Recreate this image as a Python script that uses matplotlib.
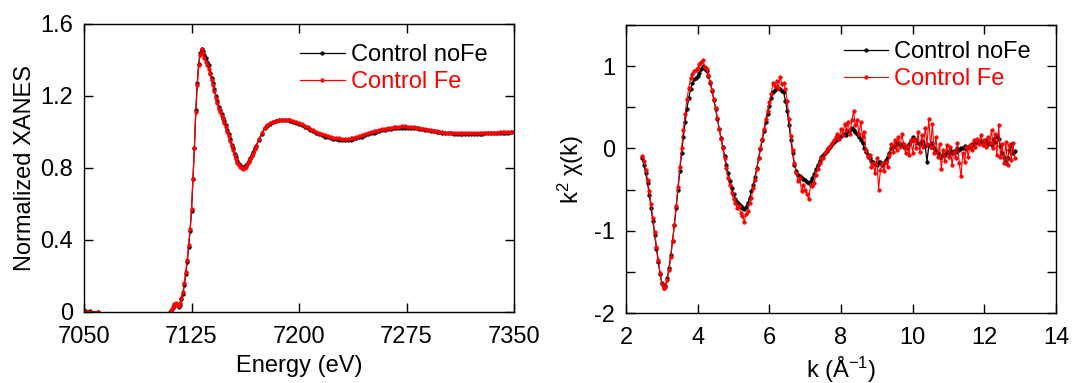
"""Fe K-edge XANES and k^2-weighted EXAFS, Control noFe vs Control Fe"""
import numpy as np
import matplotlib
matplotlib.use('Agg')
import matplotlib.pyplot as plt
from matplotlib.ticker import MultipleLocator, FuncFormatter

# ---- XANES (energy in eV) ----
energy = [7050, 7054.5, 7059.5,
          7110, 7111, 7112, 7113, 7114, 7115, 7116, 7117, 7118, 7119,
          7120, 7121, 7122, 7123, 7124, 7125, 7126, 7127, 7128, 7129,
          7130, 7131, 7132, 7133, 7134, 7135, 7136, 7137, 7138, 7139,
          7140, 7141, 7142, 7143, 7144, 7145, 7146, 7147, 7148, 7149,
          7150, 7151, 7152, 7153, 7154, 7155, 7156, 7157, 7158, 7159,
          7160, 7161, 7162, 7163, 7164, 7165, 7166, 7167, 7168, 7169, 7170,
          7172, 7174, 7176, 7178, 7180, 7182, 7184, 7186, 7188, 7190,
          7192, 7194, 7196, 7198, 7200, 7202, 7204, 7206, 7208, 7210,
          7212, 7214, 7216, 7218, 7220, 7222, 7224, 7226, 7228, 7230,
          7232, 7234, 7236, 7238, 7240, 7242, 7244, 7246, 7248, 7250,
          7252, 7254, 7256, 7258, 7260, 7262, 7264, 7266, 7268, 7270,
          7272, 7274, 7276, 7278, 7280, 7282, 7284, 7286, 7288, 7290,
          7292, 7294, 7296, 7298, 7300, 7302, 7304, 7306, 7308, 7310,
          7312, 7314, 7316, 7318, 7320, 7322, 7324, 7326, 7328, 7330,
          7332, 7334, 7336, 7338, 7340, 7342, 7344, 7346, 7348, 7350]

xanes_nofe = [0.012, 0.003, 0.0,
              0.00, 0.005, 0.02, 0.04, 0.045, 0.04, 0.03, 0.04, 0.07, 0.10,
              0.15, 0.21, 0.28, 0.36, 0.45, 0.56, 0.74, 0.91, 1.12, 1.27,
              1.38, 1.44, 1.46, 1.45, 1.43, 1.41, 1.39, 1.37, 1.33, 1.30,
              1.27, 1.24, 1.20, 1.17, 1.14, 1.12, 1.10, 1.08, 1.06, 1.04,
              1.01, 0.99, 0.96, 0.93, 0.91, 0.88, 0.86, 0.84, 0.825, 0.815,
              0.808, 0.806, 0.808, 0.815, 0.825, 0.84, 0.855, 0.87, 0.89, 0.91, 0.925,
              0.955, 0.99, 1.02, 1.035, 1.045, 1.055, 1.06, 1.065, 1.067, 1.067,
              1.065, 1.062, 1.058, 1.052, 1.046, 1.038, 1.030, 1.021, 1.012, 1.003,
              0.995, 0.988, 0.981, 0.975, 0.970, 0.966, 0.963, 0.960, 0.958, 0.957,
              0.956, 0.956, 0.958, 0.961, 0.965, 0.970, 0.975, 0.981, 0.987, 0.992,
              0.997, 1.002, 1.006, 1.010, 1.013, 1.016, 1.019, 1.021, 1.023, 1.024,
              1.025, 1.025, 1.025, 1.024, 1.022, 1.020, 1.018, 1.015, 1.012, 1.009,
              1.006, 1.003, 1.000, 0.998, 0.996, 0.994, 0.993, 0.992, 0.991, 0.990,
              0.990, 0.989, 0.989, 0.989, 0.990, 0.990, 0.990, 0.991, 0.991, 0.992,
              0.992, 0.993, 0.993, 0.994, 0.995, 0.996, 0.997, 0.997, 0.998, 0.998]

xanes_fe = [0.008, 0.0, 0.0,
            0.00, 0.01, 0.03, 0.045, 0.05, 0.04, 0.035, 0.05, 0.08, 0.11,
            0.16, 0.22, 0.29, 0.37, 0.46, 0.57, 0.74, 0.91, 1.11, 1.26,
            1.37, 1.43, 1.46, 1.44, 1.41, 1.39, 1.37, 1.35, 1.32, 1.29,
            1.26, 1.23, 1.19, 1.16, 1.13, 1.11, 1.09, 1.07, 1.05, 1.03,
            1.00, 0.98, 0.95, 0.92, 0.90, 0.87, 0.85, 0.83, 0.815, 0.805,
            0.798, 0.797, 0.80, 0.808, 0.82, 0.835, 0.85, 0.865, 0.885, 0.905, 0.92,
            0.96, 0.995, 1.025, 1.04, 1.05, 1.058, 1.063, 1.067, 1.069, 1.069,
            1.068, 1.065, 1.061, 1.056, 1.050, 1.043, 1.035, 1.026, 1.017, 1.009,
            1.001, 0.994, 0.987, 0.981, 0.976, 0.972, 0.969, 0.966, 0.964, 0.963,
            0.962, 0.962, 0.964, 0.967, 0.971, 0.976, 0.981, 0.987, 0.993, 0.998,
            1.003, 1.008, 1.012, 1.016, 1.019, 1.022, 1.025, 1.027, 1.029, 1.030,
            1.031, 1.031, 1.030, 1.029, 1.027, 1.025, 1.022, 1.019, 1.016, 1.013,
            1.010, 1.007, 1.004, 1.001, 0.999, 0.997, 0.996, 0.995, 0.994, 0.993,
            0.993, 0.992, 0.992, 0.992, 0.993, 0.993, 0.993, 0.994, 0.994, 0.995,
            0.995, 0.996, 0.996, 0.997, 0.998, 0.998, 0.999, 0.999, 1.000, 1.000]

# ---- EXAFS k^2 chi(k) ----
k = [2.45, 2.50, 2.55, 2.60, 2.65, 2.70, 2.75, 2.80, 2.85, 2.90, 2.95,
     3.00, 3.05, 3.10, 3.15, 3.20, 3.25, 3.30, 3.35, 3.40, 3.45, 3.50, 3.55, 3.60, 3.65, 3.70, 3.75, 3.80, 3.85, 3.90, 3.95,
     4.00, 4.05, 4.10, 4.15, 4.20, 4.25, 4.30, 4.35, 4.40, 4.45, 4.50, 4.55, 4.60, 4.65, 4.70, 4.75, 4.80, 4.85, 4.90, 4.95,
     5.00, 5.05, 5.10, 5.15, 5.20, 5.25, 5.30, 5.35, 5.40, 5.45, 5.50, 5.55, 5.60, 5.65, 5.70, 5.75, 5.80, 5.85, 5.90, 5.95,
     6.00, 6.05, 6.10, 6.15, 6.20, 6.25, 6.30, 6.35, 6.40, 6.45, 6.50, 6.55, 6.60, 6.65, 6.70, 6.75, 6.80, 6.85, 6.90, 6.95,
     7.00, 7.05, 7.10, 7.15, 7.20, 7.25, 7.30, 7.35, 7.40, 7.45, 7.50, 7.55, 7.60, 7.65, 7.70, 7.75, 7.80, 7.85, 7.90, 7.95,
     8.00, 8.05, 8.10, 8.15, 8.20, 8.25, 8.30, 8.35, 8.40, 8.45, 8.50, 8.55, 8.60, 8.65, 8.70, 8.75, 8.80, 8.85, 8.90, 8.95,
     9.00, 9.05, 9.10, 9.15, 9.20, 9.25, 9.30, 9.35, 9.40, 9.45, 9.50, 9.55, 9.60, 9.65, 9.70, 9.75, 9.80, 9.85, 9.90, 9.95,
     10.00, 10.05, 10.10, 10.15, 10.20, 10.25, 10.30, 10.35, 10.40, 10.45, 10.50, 10.55, 10.60, 10.65, 10.70, 10.75, 10.80, 10.85, 10.90, 10.95,
     11.00, 11.05, 11.10, 11.15, 11.20, 11.25, 11.30, 11.35, 11.40, 11.45, 11.50, 11.55, 11.60, 11.65, 11.70, 11.75, 11.80, 11.85, 11.90, 11.95,
     12.00, 12.05, 12.10, 12.15, 12.20, 12.25, 12.30, 12.35, 12.40, 12.45, 12.50, 12.55, 12.60, 12.65, 12.70, 12.75, 12.80, 12.85]

chi_nofe = [-0.12, -0.20, -0.30, -0.42, -0.56, -0.72, -0.88, -1.05, -1.22, -1.38, -1.52,
            -1.64, -1.70, -1.67, -1.58, -1.45, -1.30, -1.12, -0.93, -0.72, -0.50, -0.28, -0.06, 0.14, 0.32, 0.48, 0.61, 0.72, 0.79, 0.84, 0.85,
            0.88, 0.92, 0.97, 1.00, 0.97, 0.94, 0.88, 0.80, 0.70, 0.59, 0.48, 0.36, 0.24, 0.13, 0.02, -0.09, -0.20, -0.30, -0.40, -0.48,
            -0.55, -0.61, -0.65, -0.68, -0.70, -0.72, -0.74, -0.71, -0.66, -0.60, -0.52, -0.44, -0.35, -0.24, -0.12, -0.01, 0.10, 0.21, 0.32, 0.42,
            0.52, 0.61, 0.68, 0.71, 0.73, 0.74, 0.72, 0.70, 0.68, 0.58, 0.45, 0.28, 0.10, -0.06, -0.20, -0.27, -0.32, -0.34, -0.36, -0.37,
            -0.38, -0.41, -0.42, -0.40, -0.36, -0.31, -0.25, -0.20, -0.15, -0.11, -0.08, -0.05, -0.03, -0.01, 0.02, 0.05, 0.08, 0.10, 0.12, 0.14,
            0.15, 0.17, 0.18, 0.16, 0.21, 0.22, 0.25, 0.23, 0.20, 0.17, 0.14, 0.10, 0.06, 0.01, -0.04, -0.08, -0.12, -0.15, -0.17, -0.19,
            -0.20, -0.17, -0.16, -0.20, -0.18, -0.14, -0.10, -0.05, 0.00, 0.02, 0.03, 0.07, 0.06, 0.04, 0.05, 0.02, 0.02, 0.01, 0.05, 0.09,
            0.14, 0.12, 0.10, 0.06, 0.05, 0.09, 0.08, 0.03, -0.16, 0.04, 0.02, 0.06, 0.00, -0.03, -0.06, -0.10, -0.10, -0.07, -0.08, -0.04,
            -0.06, -0.02, -0.05, -0.03, -0.04, 0.00, -0.02, 0.01, 0.00, 0.03, -0.01, 0.02, 0.02, 0.05, 0.03, 0.06, 0.08, 0.06, 0.09, 0.07,
            0.08, 0.10, 0.05, 0.07, 0.04, 0.12, 0.08, 0.15, 0.12, 0.03, -0.05, -0.10, -0.18, -0.12, -0.02, 0.05, -0.06, -0.03]

chi_fe = [-0.09, -0.15, -0.26, -0.38, -0.52, -0.68, -0.85, -1.02, -1.20, -1.36, -1.51,
          -1.65, -1.70, -1.68, -1.60, -1.48, -1.32, -1.13, -0.93, -0.70, -0.47, -0.23, 0.00, 0.22, 0.42, 0.60, 0.73, 0.85, 0.91, 0.94, 0.95,
          0.98, 1.02, 1.05, 1.07, 0.99, 0.96, 0.89, 0.81, 0.71, 0.60, 0.49, 0.37, 0.24, 0.12, 0.00, -0.12, -0.24, -0.36, -0.45, -0.54,
          -0.62, -0.66, -0.72, -0.70, -0.78, -0.82, -0.89, -0.80, -0.76, -0.66, -0.60, -0.48, -0.38, -0.25, -0.12, 0.00, 0.12, 0.24, 0.36, 0.46,
          0.56, 0.66, 0.80, 0.76, 0.82, 0.74, 0.87, 0.78, 0.80, 0.72, 0.58, 0.36, 0.15, -0.02, -0.18, -0.30, -0.40, -0.36, -0.52, -0.45,
          -0.50, -0.55, -0.62, -0.44, -0.46, -0.42, -0.32, -0.25, -0.18, -0.12, -0.12, -0.06, -0.02, 0.01, 0.03, 0.06, 0.10, 0.14, 0.18, 0.12,
          0.24, 0.16, 0.30, 0.22, 0.32, 0.18, 0.34, 0.45, 0.28, 0.34, 0.18, 0.32, 0.14, 0.20, -0.02, -0.10, -0.08, -0.22, -0.18, -0.30,
          -0.12, -0.50, -0.26, -0.18, -0.28, -0.16, -0.22, -0.08, 0.05, -0.04, 0.10, -0.02, 0.14, 0.02, 0.18, 0.05, -0.05, 0.03, -0.08, 0.10,
          -0.05, 0.12, 0.00, 0.20, -0.04, 0.16, 0.02, 0.25, 0.05, 0.36, 0.02, 0.30, -0.06, 0.14, -0.10, 0.05, -0.25, -0.02, -0.15, 0.04,
          -0.10, 0.02, -0.20, -0.04, -0.12, 0.06, -0.18, -0.34, -0.05, -0.16, 0.02, -0.10, 0.04, -0.02, 0.10, 0.02, 0.12, 0.05, 0.16, 0.04,
          0.10, 0.02, 0.14, 0.06, 0.22, 0.00, 0.18, -0.08, 0.28, -0.10, 0.05, -0.18, 0.08, -0.20, 0.04, -0.14, 0.06, -0.12]

plt.rcParams['font.family'] = ['Liberation Sans', 'DejaVu Sans']
plt.rcParams['mathtext.fontset'] = 'custom'
plt.rcParams['mathtext.rm'] = 'Liberation Sans'
plt.rcParams['mathtext.it'] = 'Liberation Sans:italic'
plt.rcParams['axes.unicode_minus'] = False
FS = 17
MS = 2.6

fig = plt.figure(figsize=(10.73, 3.83), dpi=100)
ax1 = fig.add_axes([84/1073, 71/383, 430/1073, 288/383])
ax2 = fig.add_axes([626/1073, 70/383, 430/1073, 288/383])

def style(ax):
    ax.tick_params(which='both', direction='in', top=True, right=True,
                   length=6.5, width=1, labelsize=FS)
    ax.tick_params(axis='y', pad=8)
    ax.tick_params(axis='x', pad=10)
    for s in ax.spines.values():
        s.set_linewidth(1.0)

def legend(ax, x, y):
    leg = ax.legend(loc='upper left', bbox_to_anchor=(x, y), frameon=False,
                    handlelength=1.9, handletextpad=0.25, labelspacing=0.2,
                    borderpad=0, borderaxespad=0, numpoints=1, fontsize=FS)
    for txt, ln in zip(leg.get_texts(), leg.get_lines()):
        txt.set_color(ln.get_color())

# left: XANES (pre-edge points drawn apart from the edge scan)
ax1.plot(energy[:3], xanes_nofe[:3], '-o', color='black', lw=0.9, ms=MS, mew=0.4)
ax1.plot(energy[3:], xanes_nofe[3:], '-o', color='black', lw=0.9, ms=MS, mew=0.4, label='Control noFe')
ax1.plot(energy[:3], xanes_fe[:3], '-o', color='red', lw=0.9, ms=MS, mew=0.4)
ax1.plot(energy[3:], xanes_fe[3:], '-o', color='red', lw=0.9, ms=MS, mew=0.4, label='Control Fe')
ax1.set_xlim(7050, 7350)
ax1.set_ylim(0, 1.6)
ax1.xaxis.set_major_locator(MultipleLocator(75))
ax1.yaxis.set_major_locator(MultipleLocator(0.4))
ax1.yaxis.set_major_formatter(FuncFormatter(lambda v, p: '%g' % round(v, 2)))
ax1.set_xlabel('Energy (eV)', fontsize=FS, labelpad=5)
ax1.set_ylabel('Normalized XANES', fontsize=FS, labelpad=3)
style(ax1)
legend(ax1, 0.502, 0.93)

# right: EXAFS
ax2.plot(k, chi_nofe, '-o', color='black', lw=0.9, ms=MS, mew=0.4, label='Control noFe')
ax2.plot(k, chi_fe, '-o', color='red', lw=0.8, ms=MS, mew=0.4, label='Control Fe')
ax2.set_xlim(2, 14)
ax2.set_ylim(-2, 1.5)
ax2.xaxis.set_major_locator(MultipleLocator(2))
ax2.yaxis.set_major_locator(MultipleLocator(1))
ax2.yaxis.set_minor_locator(MultipleLocator(0.5))
ax2.set_xlabel(r'k ($\mathrm{\AA}^{-1}$)', fontsize=FS, labelpad=4)
ax2.set_ylabel(r'k$^{2}$ χ(k)', fontsize=FS, labelpad=6)
style(ax2)
legend(ax2, 0.506, 0.943)

fig.savefig('out.png', dpi=100)
